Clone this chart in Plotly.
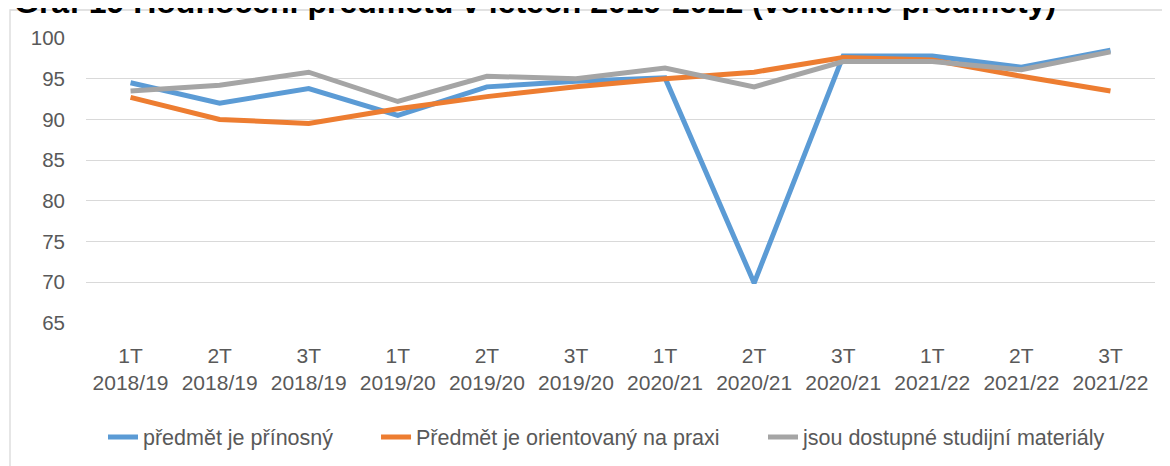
import plotly.graph_objects as go

terms = ["1T", "2T", "3T", "1T", "2T", "3T", "1T", "2T", "3T", "1T", "2T", "3T"]
years = ["2018/19", "2018/19", "2018/19", "2019/20", "2019/20", "2019/20",
         "2020/21", "2020/21", "2020/21", "2021/22", "2021/22", "2021/22"]
categories = [f"{t}<br>{y}" for t, y in zip(terms, years)]

prinosny = [94.5, 92.0, 93.8, 90.5, 94.0, 94.7, 95.1, 69.9, 97.8, 97.8, 96.4, 98.5]
praxe = [92.7, 90.0, 89.5, 91.3, 92.8, 94.0, 95.0, 95.8, 97.6, 97.3, 95.3, 93.5]
materialy = [93.5, 94.2, 95.8, 92.2, 95.3, 95.0, 96.3, 94.0, 97.1, 97.1, 96.1, 98.3]

names = ["předmět je přínosný", "Předmět je orientovaný na praxi",
         "jsou dostupné studijní materiály"]
colors = ["#5B9BD5", "#ED7D31", "#A5A5A5"]
legend_ids = ["legend", "legend2", "legend3"]
legend_x = [0.0159, 0.2713, 0.6333]

fig = go.Figure()
for name, values, color, lg in zip(names, [prinosny, praxe, materialy], colors, legend_ids):
    fig.add_trace(go.Scatter(x=categories, y=values, name=name, mode="lines",
                             line=dict(color=color, width=5), legend=lg))

# page body has an 8px margin, so the figure is 8px smaller than the window
font = "Liberation Sans"
legend_style = dict(orientation="h", xanchor="left", y=-0.4, yanchor="middle",
                    font=dict(size=21.5, color="#595959"), bgcolor="rgba(0,0,0,0)")
fig.update_layout(
    width=1162, height=458,
    margin=dict(l=78, r=15, t=30, b=143, autoexpand=False),
    paper_bgcolor="white", plot_bgcolor="white",
    font=dict(family=font, color="#595959", size=20),
    showlegend=True,
    xaxis=dict(showgrid=False, showline=False, ticks="", tickangle=0,
               range=[-0.5, 11.5], automargin=False, ticklabelstandoff=18,
               tickfont=dict(size=21)),
    yaxis=dict(range=[65, 100], dtick=5, showgrid=True, gridcolor="#D9D9D9",
               gridwidth=1.3, zeroline=False, showline=False, ticks="",
               automargin=False, ticklabelstandoff=20, tickfont=dict(size=20.5)),
    shapes=[dict(type="rect", xref="paper", yref="paper",
                 x0=(2 - 78) / 1069, x1=1.2, y0=-0.8, y1=1 + (30 - 2) / 285,
                 line=dict(color="#D9D9D9", width=1.3), layer="below")],
    annotations=[dict(text="<b>Graf 19 Hodnocení předmětů v letech 2019-2022 (volitelné předměty)</b>",
                      xref="paper", yref="paper", x=(4 - 78) / 1069, xanchor="left",
                      y=1 + (30 - 14) / 285, yanchor="bottom", showarrow=False,
                      font=dict(family=font, size=32, color="black"))],
)
for lg, lx in zip(legend_ids, legend_x):
    fig.update_layout({lg: dict(legend_style, x=lx)})

fig.write_html("out.html")
